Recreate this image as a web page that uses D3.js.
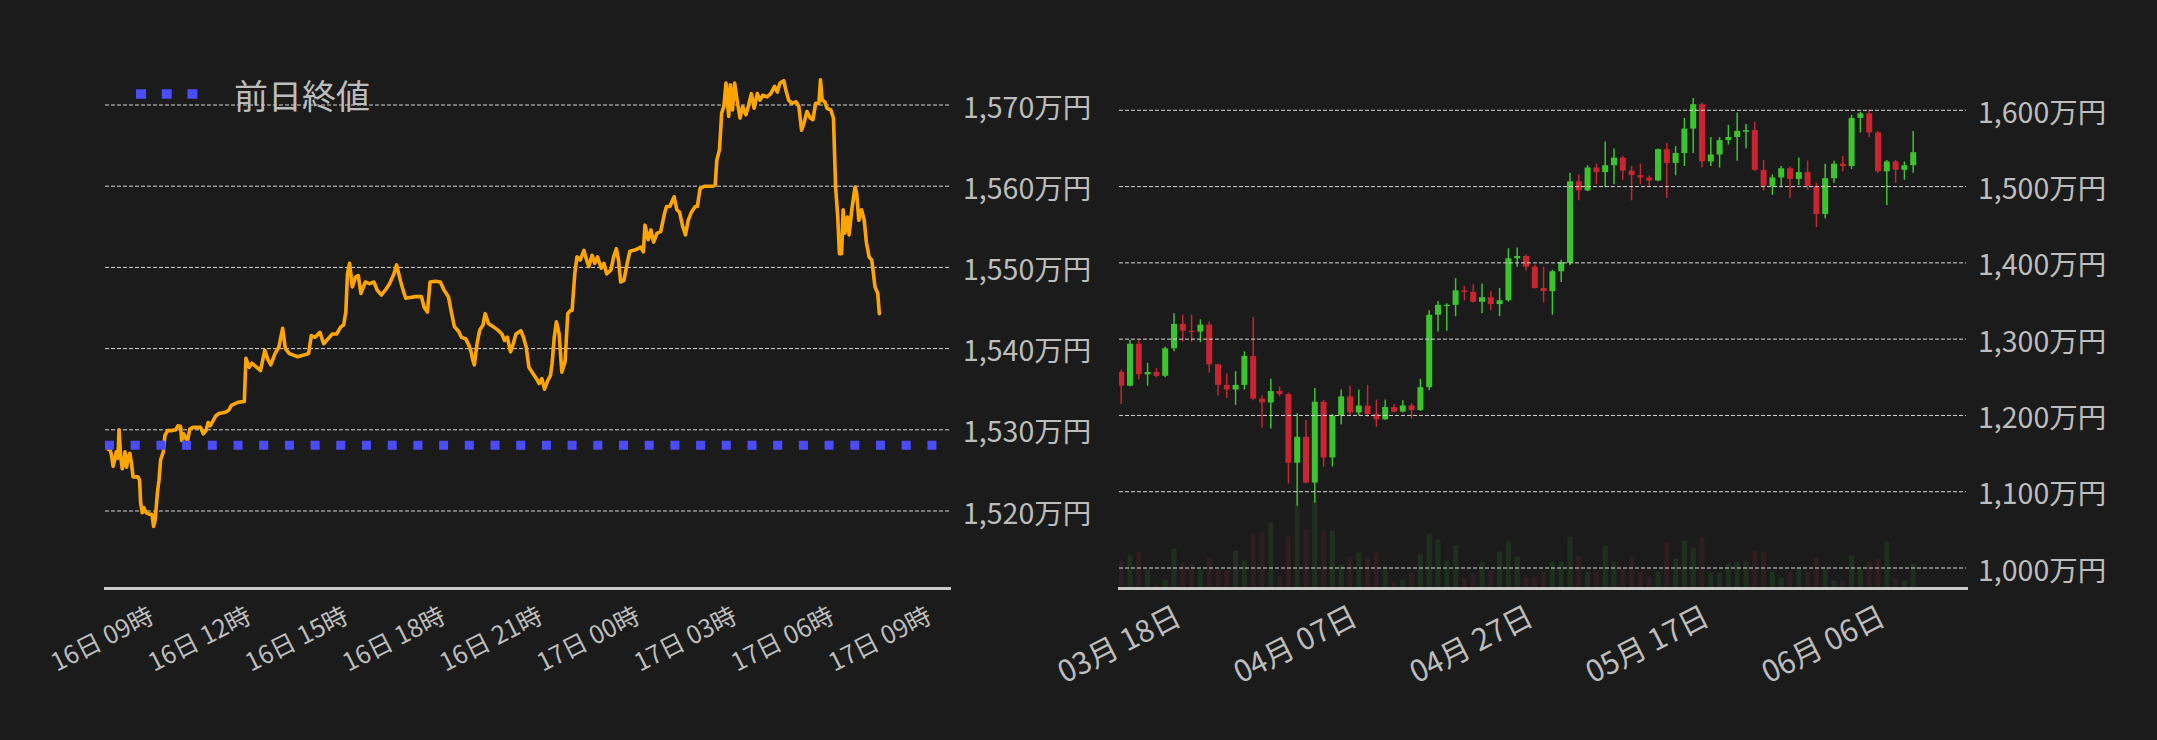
<!DOCTYPE html>
<html lang="ja">
<head>
<meta charset="utf-8">
<script src="https://cdn.jsdelivr.net/npm/d3@7"></script>
<style>
  html, body { margin: 0; padding: 0; background: #1b1b1b; }
  svg { display: block; }
  text { font-family: "Noto Sans CJK JP", "Noto Sans", sans-serif; fill: #bdbdbd; }
</style>
</head>
<body>
<svg id="chart" width="2157" height="740"></svg>
<script>
// ---- Intraday price (万円), 16日 09時 – 17日 09時 ----
const intradayTimes = [
  "16 09:13","16 09:15","16 09:19","16 09:22","16 09:25","16 09:28","16 09:31","16 09:33","16 09:36","16 09:39",
  "16 09:42","16 09:44","16 09:47","16 09:50","16 09:53","16 09:56","16 09:59","16 10:04","16 10:08","16 10:11",
  "16 10:13","16 10:16","16 10:19","16 10:23","16 10:29","16 10:34","16 10:37","16 10:40","16 10:44","16 10:47",
  "16 10:50","16 10:55","16 10:58","16 11:03","16 11:10","16 11:18","16 11:22","16 11:27","16 11:29","16 11:33",
  "16 11:37","16 11:40","16 11:44","16 11:50","16 11:58","16 12:04","16 12:09","16 12:14","16 12:18","16 12:22",
  "16 12:27","16 12:32","16 12:38","16 12:45","16 12:51","16 12:56","16 13:01","16 13:07","16 13:14","16 13:25",
  "16 13:28","16 13:34","16 13:39","16 13:48","16 13:55","16 14:03","16 14:09","16 14:14","16 14:22","16 14:29",
  "16 14:36","16 14:41","16 14:48","16 14:56","16 15:04","16 15:15","16 15:24","16 15:29","16 15:36","16 15:45",
  "16 15:52","16 16:00","16 16:08","16 16:16","16 16:24","16 16:29","16 16:33","16 16:36","16 16:40","16 16:45",
  "16 16:51","16 16:56","16 17:01","16 17:09","16 17:17","16 17:25","16 17:31","16 17:39","16 17:46","16 17:54",
  "16 18:02","16 18:07","16 18:14","16 18:19","16 18:24","16 18:32","16 18:42","16 18:53","16 18:58","16 19:04",
  "16 19:09","16 19:19","16 19:28","16 19:35","16 19:43","16 19:49","16 19:54","16 20:02","16 20:07","16 20:15",
  "16 20:21","16 20:25","16 20:28","16 20:31","16 20:36","16 20:41","16 20:47","16 20:51","16 20:57","16 21:06",
  "16 21:14","16 21:22","16 21:27","16 21:32","16 21:38","16 21:43","16 21:48","16 21:57","16 22:02","16 22:07",
  "16 22:12","16 22:18","16 22:26","16 22:31","16 22:36","16 22:41","16 22:47","16 22:52","16 22:55","16 22:59",
  "16 23:03","16 23:08","16 23:13","16 23:19","16 23:24","16 23:29","16 23:32","16 23:37","16 23:41","16 23:47",
  "16 23:54","16 23:58","17 00:03","17 00:09","17 00:14","17 00:19","17 00:26","17 00:31","17 00:36","17 00:44",
  "17 00:49","17 00:54","17 00:58","17 01:02","17 01:08","17 01:14","17 01:19","17 01:26","17 01:34","17 01:39",
  "17 01:44","17 01:47","17 01:53","17 01:58","17 02:03","17 02:09","17 02:16","17 02:23","17 02:27","17 02:33",
  "17 02:41","17 02:46","17 02:51","17 02:57","17 03:02","17 03:07","17 03:13","17 03:20","17 03:24","17 03:29",
  "17 03:37","17 03:44","17 03:52","17 03:57","17 04:00","17 04:05","17 04:09","17 04:13","17 04:17","17 04:22",
  "17 04:25","17 04:29","17 04:33","17 04:38","17 04:43","17 04:48","17 04:54","17 04:59","17 05:04","17 05:09",
  "17 05:15","17 05:20","17 05:25","17 05:33","17 05:40","17 05:47","17 05:52","17 05:57","17 06:04","17 06:08",
  "17 06:13","17 06:19","17 06:27","17 06:32","17 06:37","17 06:42","17 06:47","17 06:53","17 06:58","17 07:03",
  "17 07:09","17 07:12","17 07:15","17 07:20","17 07:24","17 07:31","17 07:36","17 07:40","17 07:44","17 07:47",
  "17 07:51","17 07:54","17 07:57","17 08:02","17 08:05","17 08:10","17 08:16","17 08:19","17 08:23","17 08:28",
  "17 08:33","17 08:37","17 08:42","17 08:47","17 08:53","17 08:58","17 09:01"
];
const intradayPrices = [
  1527.6,1527.9,1526.9,1525.5,1526.3,1527.3,1526.5,1530.0,1526.7,1525.2,
  1525.9,1527.3,1525.4,1526.7,1527.1,1525.9,1524.2,1524.2,1524.2,1523.8,
  1521.0,1519.8,1520.4,1519.8,1519.6,1519.6,1518.1,1518.9,1522.2,1523.8,
  1526.3,1527.3,1529.3,1529.9,1529.9,1530.0,1530.5,1530.4,1528.7,1529.5,
  1528.9,1528.7,1530.1,1530.3,1530.3,1530.3,1529.5,1529.9,1530.9,1530.5,
  1531.1,1531.7,1532.0,1532.1,1532.2,1532.4,1533.0,1533.2,1533.4,1533.5,
  1538.8,1537.7,1538.2,1537.7,1537.3,1539.8,1538.6,1538.0,1539.4,1540.2,
  1542.5,1540.0,1539.4,1539.2,1539.0,1539.2,1539.4,1541.6,1541.4,1542.0,
  1540.6,1541.2,1541.8,1541.8,1542.7,1542.9,1544.5,1549.2,1550.5,1547.6,
  1548.8,1549.0,1546.8,1548.2,1548.0,1548.2,1547.2,1546.6,1547.2,1548.0,
  1549.2,1550.3,1548.4,1547.2,1546.2,1546.3,1546.4,1546.4,1545.1,1544.5,
  1548.2,1548.3,1548.2,1547.2,1546.4,1544.3,1542.7,1542.1,1541.4,1541.2,
  1540.4,1539.6,1538.6,1538.0,1540.6,1542.3,1542.9,1544.3,1543.1,1542.7,
  1542.3,1541.8,1541.0,1541.4,1539.6,1540.6,1541.8,1542.2,1541.4,1540.2,
  1537.7,1537.1,1536.3,1535.7,1536.3,1535.0,1536.1,1536.7,1538.2,1541.4,
  1543.3,1541.8,1537.1,1538.4,1544.3,1544.7,1544.7,1549.2,1551.3,1550.9,
  1552.1,1551.1,1550.1,1551.5,1550.5,1551.3,1549.9,1550.5,1549.2,1549.7,
  1551.3,1552.3,1550.9,1548.2,1548.4,1550.5,1552.0,1552.1,1552.3,1552.5,
  1551.9,1555.2,1553.4,1554.6,1553.1,1554.2,1554.4,1556.6,1557.5,1557.5,
  1558.7,1557.1,1556.8,1555.0,1554.0,1555.8,1556.8,1557.5,1557.5,1559.7,
  1560.0,1560.0,1560.0,1560.1,1563.2,1564.5,1569.0,1569.8,1572.7,1568.6,
  1572.5,1569.4,1572.7,1570.4,1568.4,1569.8,1568.8,1570.0,1571.4,1569.6,
  1571.4,1570.6,1571.2,1571.0,1571.4,1572.3,1571.6,1572.7,1573.0,1571.8,
  1570.6,1570.2,1570.4,1569.8,1566.9,1567.9,1569.2,1568.4,1568.2,1570.2,
  1570.2,1573.1,1570.6,1570.4,1569.6,1569.4,1568.4,1559.9,1556.2,1551.7,
  1551.7,1557.1,1554.2,1556.2,1554.0,1557.1,1559.9,1559.1,1555.8,1557.1,
  1555.8,1553.1,1551.3,1550.9,1547.6,1546.8,1544.3
];
const prevClose = 1528.1;
const intradayDomain = ["16 09:07", "17 11:10"];
const intradayTicks = ["16 09:00","16 12:00","16 15:00","16 18:00","16 21:00","17 00:00","17 03:00","17 06:00","17 09:00"];
const intradayYTicks = [1520, 1530, 1540, 1550, 1560, 1570];
const legendLabel = "前日終値";

// ---- Daily candles (万円) and volume ----
const dailyFirst = "2025-03-18";
const dailyLast = "2025-06-16";
const dailyOpen = [
  1257,1239,1294,1254,1257,1252,1288,1320,1311,1310, 1319,1267,1240,1234,1240,1278,1222,1217,1232,1228,
  1138,1172,1112,1218,1145,1200,1225,1204,1213,1202, 1195,1211,1205,1213,1207,1237,1332,1344,1345,1364,
  1362,1349,1355,1346,1351,1406,1409,1395,1367,1363, 1389,1400,1507,1495,1525,1519,1528,1538,1521,1515,
  1512,1508,1549,1531,1544,1576,1608,1533,1542,1561, 1565,1572,1574,1522,1501,1512,1524,1510,1519,1501,
  1464,1511,1530,1527,1590,1596,1571,1520,1533,1522, 1528
];
const dailyHigh = [
  1260,1299,1299,1269,1262,1290,1334,1332,1332,1326, 1323,1268,1255,1258,1284,1329,1226,1248,1238,1230,
  1203,1194,1236,1220,1202,1234,1239,1234,1240,1221, 1221,1215,1220,1216,1248,1338,1350,1347,1380,1370,
  1372,1373,1363,1367,1419,1420,1411,1398,1395,1391, 1404,1518,1516,1528,1530,1559,1550,1540,1527,1530,
  1515,1550,1557,1553,1590,1616,1610,1565,1565,1581, 1597,1582,1585,1535,1516,1527,1526,1538,1534,1505,
  1530,1534,1540,1594,1598,1601,1573,1535,1535,1533, 1573
];
const dailyLow = [
  1215,1238,1247,1239,1250,1250,1284,1297,1296,1296, 1256,1226,1223,1214,1234,1220,1184,1183,1225,1111,
  1082,1111,1086,1133,1133,1188,1200,1200,1198,1185, 1194,1204,1204,1196,1206,1233,1310,1311,1330,1351,
  1348,1334,1338,1330,1349,1395,1390,1366,1348,1332, 1375,1397,1482,1494,1503,1499,1503,1509,1482,1503,
  1499,1507,1485,1515,1527,1544,1525,1527,1525,1555, 1534,1550,1520,1495,1489,1499,1485,1502,1496,1447,
  1458,1505,1520,1523,1571,1565,1518,1476,1505,1509, 1518
];
const dailyClose = [
  1239,1294,1254,1257,1252,1288,1320,1311,1310,1319, 1267,1240,1234,1240,1278,1222,1217,1232,1228,1138,
  1172,1112,1218,1145,1200,1225,1204,1213,1202,1195, 1211,1205,1213,1207,1237,1332,1345,1345,1364,1362,
  1349,1355,1346,1351,1406,1409,1395,1367,1363,1389, 1401,1507,1495,1525,1519,1528,1538,1521,1515,1512,
  1508,1549,1531,1544,1576,1608,1533,1542,1561,1565, 1573,1574,1522,1501,1512,1524,1510,1519,1501,1464,
  1511,1530,1527,1590,1596,1571,1520,1533,1522,1528, 1545
];
const dailyVolume = [
  2800,3400,3700,1900,400,900,4000,2600,2500,1900, 3200,1800,1800,3800,2800,5500,5700,6600,1200,5200,
  8500,6000,8800,5800,5800,2400,3200,3600,3100,3700, 2300,700,900,1600,3500,5500,4900,2800,4300,1000,
  1500,2600,1800,3700,4700,3200,1100,1200,1700,2700, 2700,5200,3300,1700,1700,4300,2700,2000,3200,1700,
  1200,1700,4600,3000,4800,4100,5100,1600,1600,2500, 2700,2700,3800,3700,1700,1100,1700,2200,1700,3100,
  2200,800,800,3300,2000,2700,3000,4700,1000,800, 2500
];
const dailyDomain = ["2025-03-17 18:00", "2025-06-22 00:00"];
const dailyTicks = ["2025-03-18", "2025-04-07", "2025-04-27", "2025-05-17", "2025-06-06"];
const dailyYTicks = [1000, 1100, 1200, 1300, 1400, 1500, 1600];

// ---- Styling ----
const C = {
  grid: "#d4d4d4",
  axis: "#c8c8c8",
  line: "#ffa500",
  prev: "#4b4bff",
  up: "#3cc42f",
  down: "#c92430",
  volUp: "#1e2f1e",
  volDown: "#2f1e1f"
};
const DOT = "9 16.7";

const svg = d3.select("#chart");
svg.append("rect").attr("width", 2157).attr("height", 740).attr("fill", "#1b1b1b");

const defs = svg.append("defs");
const axisY = 588.5;
const yen = v => d3.format(",")(v) + "万円";

// ================= Intraday line chart =================
const parseI = d3.timeParse("%d %H:%M");
const L = { left: 105, right: 949 };
const xL = d3.scaleTime().domain(intradayDomain.map(parseI)).range([L.left, L.right]);
const yL = d3.scaleLinear().domain([1520, 1570]).range([511, 105]);

defs.append("clipPath").attr("id", "clipL")
  .append("rect").attr("x", L.left).attr("y", 0).attr("width", L.right - L.left).attr("height", axisY);

const gL = svg.append("g");
gL.append("g").selectAll("line").data(intradayYTicks).join("line")
  .attr("x1", L.left).attr("x2", L.right)
  .attr("y1", d => yL(d)).attr("y2", d => yL(d))
  .attr("stroke", C.grid).attr("stroke-width", 1).attr("stroke-dasharray", "4 2");

gL.append("g").selectAll("text").data(intradayYTicks).join("text")
  .attr("x", L.right + 14).attr("y", d => yL(d))
  .attr("dominant-baseline", "central").attr("font-size", 28.5)
  .text(yen);

const series = intradayTimes.map((t, i) => ({ t: parseI(t), v: intradayPrices[i] }));
gL.append("path").datum(series)
  .attr("clip-path", "url(#clipL)")
  .attr("fill", "none").attr("stroke", C.line).attr("stroke-width", 3.6)
  .attr("stroke-linejoin", "round").attr("stroke-linecap", "round")
  .attr("d", d3.line().x(d => xL(d.t)).y(d => yL(d.v)));

gL.append("line")
  .attr("x1", L.left).attr("x2", L.right)
  .attr("y1", yL(prevClose)).attr("y2", yL(prevClose))
  .attr("stroke", C.prev).attr("stroke-width", 9).attr("stroke-dasharray", DOT);

gL.append("line")
  .attr("x1", L.left - 1).attr("x2", L.right + 2).attr("y1", axisY).attr("y2", axisY)
  .attr("stroke", C.axis).attr("stroke-width", 3);

gL.append("g").selectAll("text").data(intradayTicks.map(parseI)).join("text")
  .attr("transform", d => `translate(${xL(d)},637) rotate(-27)`)
  .attr("text-anchor", "middle").attr("dominant-baseline", "central")
  .attr("font-size", 25)
  .text(d3.timeFormat("%d日 %H時"));

// legend
const lg = svg.append("g");
lg.append("line").attr("x1", 136).attr("x2", 198).attr("y1", 94).attr("y2", 94)
  .attr("stroke", C.prev).attr("stroke-width", 9.5).attr("stroke-dasharray", "10 15.7");
lg.append("text").attr("x", 234).attr("y", 94).attr("dominant-baseline", "central")
  .attr("font-size", 34).text(legendLabel);

// ================= Daily candlestick chart =================
const parseD = d3.timeParse("%Y-%m-%d");
const parseDT = d3.timeParse("%Y-%m-%d %H:%M");
const R = { left: 1119, right: 1966 };
const xR = d3.scaleTime().domain(dailyDomain.map(parseDT)).range([R.left, R.right]);
const yR = d3.scaleLinear().domain([1000, 1600]).range([568, 110.3]);
const vR = d3.scaleLinear().domain([0, 30000]).range([axisY, axisY - 300]);

const days = d3.timeDay.range(parseD(dailyFirst), d3.timeDay.offset(parseD(dailyLast), 1));
const candles = days.map((d, i) => ({
  d, o: dailyOpen[i], h: dailyHigh[i], l: dailyLow[i], c: dailyClose[i], vol: dailyVolume[i]
}));

defs.append("clipPath").attr("id", "clipR")
  .append("rect").attr("x", R.left).attr("y", 0).attr("width", R.right - R.left).attr("height", axisY);

const gR = svg.append("g");
const plotR = gR.append("g").attr("clip-path", "url(#clipR)");

// volume bars under everything
plotR.append("g").selectAll("rect").data(candles).join("rect")
  .attr("x", d => xR(d.d) - 2.5).attr("width", 5)
  .attr("y", d => vR(d.vol)).attr("height", d => axisY - vR(d.vol))
  .attr("fill", d => d.c >= d.o ? C.volUp : C.volDown);

gR.append("g").selectAll("line").data(dailyYTicks).join("line")
  .attr("x1", R.left).attr("x2", R.right)
  .attr("y1", d => yR(d)).attr("y2", d => yR(d))
  .attr("stroke", C.grid).attr("stroke-width", 1).attr("stroke-dasharray", "4 2");

gR.append("g").selectAll("text").data(dailyYTicks).join("text")
  .attr("x", R.right + 12).attr("y", d => yR(d))
  .attr("dominant-baseline", "central").attr("font-size", 28.5)
  .text(yen);

const cg = plotR.append("g");
cg.selectAll("line").data(candles).join("line")
  .attr("x1", d => xR(d.d)).attr("x2", d => xR(d.d))
  .attr("y1", d => yR(d.h)).attr("y2", d => yR(d.l))
  .attr("stroke", d => d.c >= d.o ? C.up : C.down).attr("stroke-width", 1.5);
cg.selectAll("rect").data(candles).join("rect")
  .attr("x", d => xR(d.d) - 3).attr("width", 6)
  .attr("y", d => yR(Math.max(d.o, d.c)))
  .attr("height", d => Math.max(1.2, Math.abs(yR(d.o) - yR(d.c))))
  .attr("fill", d => d.c >= d.o ? C.up : C.down);

gR.append("line")
  .attr("x1", R.left - 1).attr("x2", R.right + 2).attr("y1", axisY).attr("y2", axisY)
  .attr("stroke", C.axis).attr("stroke-width", 3);

gR.append("g").selectAll("text").data(dailyTicks.map(parseD)).join("text")
  .attr("transform", d => `translate(${xR(d) - 3},642) rotate(-27)`)
  .attr("text-anchor", "middle").attr("dominant-baseline", "central")
  .attr("font-size", 30)
  .text(d3.timeFormat("%m月 %d日"));
</script>
</body>
</html>
